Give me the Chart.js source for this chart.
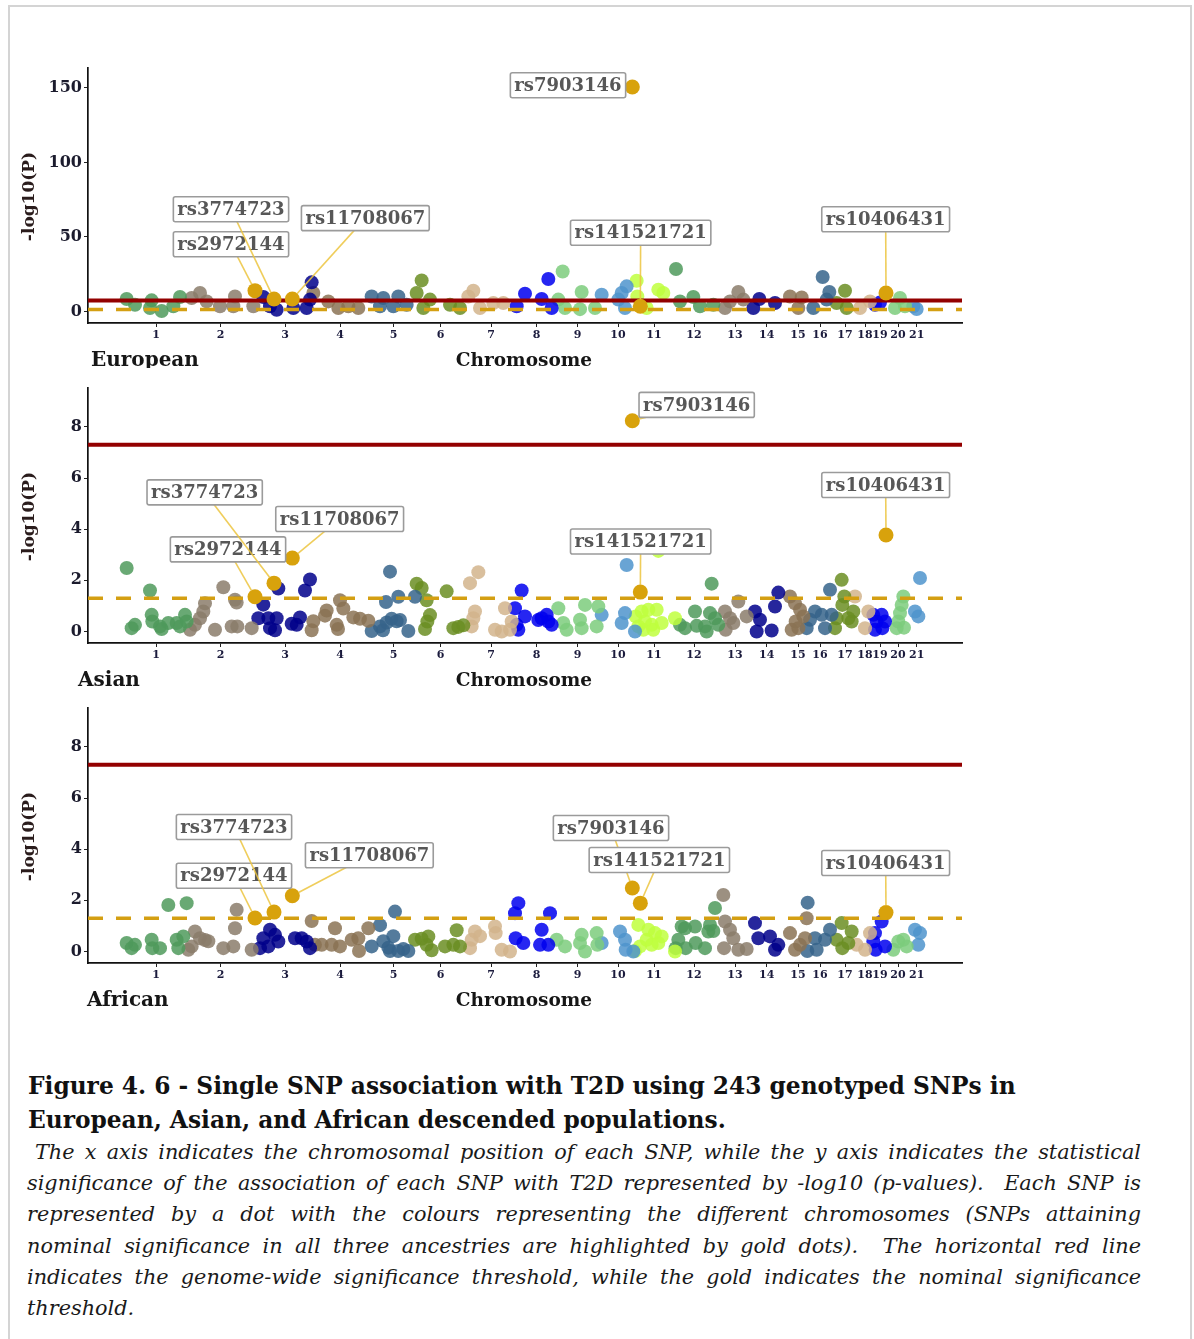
<!DOCTYPE html>
<html>
<head>
<meta charset="utf-8">
<script src="https://cdn.jsdelivr.net/npm/chart.js@4.4.0/dist/chart.umd.min.js"></script>
<style>
html, body { margin: 0; padding: 0; background: #fff; }
body { width: 1194px; height: 1339px; position: relative; overflow: hidden; }
#frame { position: absolute; left: 8px; top: 5px; width: 1180px; height: 1360px; border: 2px solid #d4d4d4; }
canvas.panel { position: absolute; left: 0; }
#fig_title { position: absolute; left: 28px; top: 1069px; font: bold 23.3px "DejaVu Serif", serif; line-height: 34px; color: #111; white-space: nowrap; }
#fig_text { position: absolute; left: 27px; top: 1137px; width: 1114px; font: italic 20.8px "DejaVu Serif", serif; line-height: 31.2px; color: #1a1a1a; }
#fig_text div { text-align: justify; text-align-last: justify; white-space: nowrap; }
#fig_text div.last { text-align-last: left; }
</style>
</head>
<body>
<div id="frame"></div>
<canvas id="g_european" class="panel" width="1194" height="320" style="top:48px"></canvas>
<canvas id="g_asian" class="panel" width="1194" height="320" style="top:368px"></canvas>
<canvas id="g_african" class="panel" width="1194" height="320" style="top:688px"></canvas>

<div id="fig_title">Figure 4. 6 - Single SNP association with T2D using 243 genotyped SNPs in<br>European, Asian, and African descended populations.</div>
<div id="fig_text">
  <div style="padding-left:8px">The x axis indicates the chromosomal position of each SNP, while the y axis indicates the statistical</div>
  <div>significance of the association of each SNP with T2D represented by -log10 (p-values).&nbsp; Each SNP is</div>
  <div>represented by a dot with the colours representing the different chromosomes (SNPs attaining</div>
  <div>nominal significance in all three ancestries are highlighted by gold dots).&nbsp; The horizontal red line</div>
  <div>indicates the genome-wide significance threshold, while the gold indicates the nominal significance</div>
  <div class="last">threshold.</div>
</div>

<script>
// chromosome midpoints on the cumulative position axis (Mb)
const chromCenters = [204, 397.5, 591, 756, 916.5, 1058, 1209, 1345.5, 1469, 1590, 1698, 1818, 1941, 2036, 2130, 2196, 2271, 2331, 2376, 2430, 2486];
const chromLabels = ['1','2','3','4','5','6','7','8','9','10','11','12','13','14','15','16','17','18','19','20','21'];
const genomeLength = 2622;

const genomeWideLine = 7.3;   // -log10(5e-8)
const nominalLine = 1.3;      // -log10(0.05)

// SNPs nominally significant in all three ancestries
const goldIds = ['rs2972144', 'rs3774723', 'rs11708067', 'rs7903146', 'rs141521721', 'rs10406431'];
const goldPos = [501, 558, 613, 1633, 1657, 2394];
const euroGold = [13.9, 8.3, 8.3, 150.6, 3.4, 12.3];
const asianGold = [1.36, 1.89, 2.87, 8.24, 1.54, 3.77];
const africanGold = [1.31, 1.54, 2.18, 2.48, 1.89, 1.52];

// [chromosome, position, -log10(P)]
const euroSnps = [
  [1,116,8.3],[1,141,4.5],[1,186,2.3],[1,191,7.4],[1,221,0.3],[1,256,3.4],[1,276,9.7],
  [2,311,9.0],[2,336,12.3],[2,356,6.7],[2,396,3.4],[2,436,3.4],[2,441,10.0],[2,496,3.4],
  [3,526,9.7],[3,546,3.4],[3,566,1.1],[3,616,2.3],[3,656,2.3],[3,666,7.9],[3,671,19.5],
  [4,676,12.3],[4,721,6.7],[4,751,2.3],[4,781,3.4],[4,811,2.3],
  [5,851,10.0],[5,876,3.4],[5,886,9.0],[5,916,3.4],[5,931,10.0],[5,956,4.5],
  [6,986,12.3],[6,1001,20.8],[6,1006,2.3],[6,1026,7.9],[6,1086,4.5],[6,1116,2.3],
  [7,1141,10.0],[7,1156,13.9],[7,1176,2.3],[7,1216,5.6],[7,1246,5.6],
  [8,1286,3.4],[8,1311,11.9],[8,1361,8.3],[8,1381,21.7],[8,1391,2.3],
  [9,1411,7.9],[9,1424,26.8],[9,1431,2.3],[9,1476,1.5],[9,1481,13.0],[9,1521,2.3],
  [10,1541,11.2],[10,1591,7.9],[10,1601,12.3],[10,1611,2.3],[10,1616,16.8],
  [11,1646,20.6],[11,1648,10.0],[11,1676,2.3],[11,1711,14.6],[11,1726,12.3],
  [12,1764,28.5],[12,1776,6.7],[12,1816,9.7],[12,1836,3.4],[12,1876,4.5],
  [13,1911,2.3],[13,1926,6.7],[13,1951,13.0],[13,1966,7.9],
  [14,1996,2.3],[14,2014,8.3],[14,2061,5.6],
  [15,2106,10.0],[15,2131,2.3],[15,2141,9.4],
  [16,2176,2.3],[16,2204,23.1],[16,2216,7.9],[16,2224,13.0],
  [17,2246,5.6],[17,2271,13.9],[17,2276,2.3],
  [18,2316,2.3],[18,2346,6.7],
  [19,2361,4.5],[19,2376,6.0],
  [20,2421,2.3],[20,2436,9.0],[20,2451,3.4],
  [21,2476,3.4],[21,2486,1.6]
];

const asianSnps = [
  [1,116,2.48],[1,131,0.13],[1,141,0.26],[1,186,1.6],[1,191,0.65],[1,193,0.39],[1,216,0.2],[1,221,0.1],[1,241,0.33],[1,266,0.33],[1,276,0.2],[1,291,0.65],[1,296,0.39],
  [2,306,0.07],[2,321,0.26],[2,336,0.52],[2,346,0.78],[2,351,1.1],[2,381,0.07],[2,406,1.73],[2,431,0.2],[2,441,1.24],[2,446,1.13],[2,448,0.2],[2,491,0.13],
  [3,511,0.52],[3,526,1.05],[3,541,0.52],[3,546,0.13],[3,561,0.05],[3,566,0.52],[3,571,1.68],[3,611,0.3],[3,626,0.26],[3,636,0.55],[3,651,1.6],[3,666,2.03],
  [4,671,0.05],[4,676,0.4],[4,711,0.62],[4,716,0.82],[4,746,0.26],[4,750,0.1],[4,756,1.22],[4,766,0.9],[4,796,0.55],[4,816,0.5],[4,841,0.42],
  [5,851,0.02],[5,876,0.2],[5,885,0.05],[5,894,1.15],[5,896,0.35],[5,906,2.34],[5,911,0.5],[5,926,0.4],[5,931,1.36],[5,936,0.45],[5,961,0.02],[5,981,1.36],
  [6,986,1.87],[6,1001,1.7],[6,1011,0.1],[6,1016,1.22],[6,1018,0.39],[6,1026,0.64],[6,1076,1.57],[6,1096,0.13],[6,1111,0.18],[6,1126,0.24],
  [7,1146,1.89],[7,1151,0.2],[7,1156,0.52],[7,1161,0.78],[7,1171,2.32],[7,1221,0.07],[7,1241,0.0],[7,1251,0.91],[7,1266,0.07],[7,1271,0.39],
  [8,1281,0.91],[8,1286,0.26],[8,1291,0.07],[8,1301,1.6],[8,1311,0.59],[8,1351,0.45],[8,1361,0.52],[8,1376,0.65],[8,1381,0.39],[8,1391,0.26],
  [9,1411,0.91],[9,1426,0.33],[9,1436,0.07],[9,1476,0.46],[9,1481,0.13],[9,1491,1.04],[9,1526,0.2],[9,1531,0.98],
  [10,1541,0.65],[10,1601,0.33],[10,1611,0.72],[10,1616,2.6],[10,1641,0.0],
  [11,1643,0.59],[11,1651,0.2],[11,1661,0.78],[11,1666,0.07],[11,1671,0.39],[11,1681,0.85],[11,1691,0.26],[11,1696,0.07],[11,1706,0.85],[11,1711,3.15],[11,1721,0.33],[11,1761,0.52],
  [12,1776,0.26],[12,1791,0.13],[12,1821,0.78],[12,1826,0.22],[12,1851,0.2],[12,1856,0.0],[12,1866,0.72],[12,1871,1.87],[12,1881,0.52],[12,1891,0.26],
  [13,1911,0.78],[13,1913,0.07],[13,1926,0.52],[13,1936,0.33],[13,1951,1.17],[13,1976,0.59],
  [14,2001,0.78],[14,2006,0.0],[14,2016,0.46],[14,2051,0.04],[14,2061,0.98],[14,2071,1.52],
  [15,2106,1.37],[15,2111,0.07],[15,2121,1.1],[15,2123,0.39],[15,2131,0.13],[15,2136,0.85],[15,2146,0.59],
  [16,2156,0.13],[16,2166,0.46],[16,2181,0.78],[16,2201,0.65],[16,2211,0.13],[16,2226,1.63],[16,2231,0.65],
  [17,2241,0.13],[17,2246,0.52],[17,2261,2.02],[17,2263,1.04],[17,2269,1.37],[17,2281,0.52],[17,2291,0.39],[17,2296,0.78],
  [18,2301,1.37],[18,2331,0.13],[18,2341,0.78],
  [19,2356,0.65],[19,2361,0.07],[19,2366,0.39],[19,2381,0.65],[19,2383,0.13],[19,2391,0.39],
  [20,2426,0.13],[20,2431,0.39],[20,2436,0.72],[20,2441,1.04],[20,2446,1.37],[20,2448,0.15],
  [21,2481,0.78],[21,2491,0.59],[21,2496,2.09]
];

const africanSnps = [
  [1,116,0.33],[1,131,0.13],[1,141,0.26],[1,191,0.46],[1,193,0.13],[1,216,0.13],[1,241,1.82],[1,266,0.46],[1,271,0.13],[1,286,0.59],[1,296,1.89],
  [2,301,0.07],[2,311,0.2],[2,321,0.78],[2,336,0.52],[2,351,0.45],[2,361,0.4],[2,406,0.13],[2,436,0.2],[2,441,0.91],[2,446,1.63],[2,491,0.07],
  [3,516,0.13],[3,526,0.52],[3,541,0.2],[3,546,0.85],[3,561,0.65],[3,571,0.39],[3,621,0.52],[3,641,0.52],[3,656,0.39],[3,666,0.13],
  [4,671,1.19],[4,681,0.26],[4,701,0.26],[4,731,0.26],[4,741,0.91],[4,756,0.2],[4,791,0.46],[4,811,0.52],[4,813,0.02],[4,841,0.91],
  [5,851,0.2],[5,876,1.03],[5,886,0.4],[5,901,0.15],[5,906,0.02],[5,916,0.6],[5,921,1.56],[5,931,0.02],[5,946,0.1],[5,961,0.02],
  [6,981,0.46],[6,1001,0.5],[6,1016,0.26],[6,1021,0.59],[6,1031,0.05],[6,1071,0.2],[6,1096,0.26],[6,1106,0.83],[6,1116,0.2],
  [7,1146,0.13],[7,1151,0.46],[7,1161,0.78],[7,1176,0.6],[7,1221,0.98],[7,1223,0.72],[7,1241,0.07],[7,1266,0.0],
  [8,1281,1.5],[8,1283,0.52],[8,1291,1.89],[8,1306,0.33],[8,1356,0.26],[8,1361,0.85],[8,1381,0.26],[8,1386,1.5],
  [9,1406,0.46],[9,1431,0.2],[9,1476,0.33],[9,1481,0.65],[9,1491,0.0],[9,1526,0.72],[9,1528,0.26],
  [10,1541,0.33],[10,1596,0.78],[10,1611,0.46],[10,1613,0.07],[10,1636,0.0],
  [11,1641,0.02],[11,1651,1.04],[11,1656,0.2],[11,1676,0.46],[11,1681,0.85],[11,1691,0.26],[11,1701,0.72],[11,1711,0.33],[11,1721,0.59],[11,1761,0.0],
  [12,1763,0.13],[12,1771,0.46],[12,1781,0.98],[12,1791,0.91],[12,1793,0.13],[12,1821,0.98],[12,1823,0.33],[12,1851,0.13],[12,1861,0.78],[12,1866,1.04],[12,1876,0.8],[12,1881,1.7],
  [13,1906,2.21],[13,1908,0.13],[13,1911,1.17],[13,1926,0.85],[13,1936,0.52],[13,1951,0.07],[13,1976,0.1],
  [14,2001,1.11],[14,2011,0.52],[14,2046,0.59],[14,2061,0.07],[14,2071,0.26],
  [15,2106,0.72],[15,2121,0.07],[15,2136,0.26],[15,2151,0.52],[15,2156,1.3],
  [16,2158,0.02],[16,2159,1.91],[16,2181,0.52],[16,2186,0.07],[16,2211,0.46],[16,2226,0.85],
  [17,2246,0.46],[17,2261,1.11],[17,2263,0.13],[17,2281,0.33],[17,2291,0.78],
  [18,2306,0.26],[18,2331,0.07],[18,2346,0.72],
  [19,2356,0.39],[19,2361,0.72],[19,2363,0.07],[19,2381,1.17],[19,2391,0.2],
  [20,2416,0.07],[20,2431,0.39],[20,2446,0.46],[20,2456,0.2],
  [21,2481,0.85],[21,2491,0.26],[21,2496,0.72]
];

// label box centres (position, -log10(P)), same order as goldIds
const euroBoxes = [[429,45.1],[429,68.6],[832,62.6],[1440,151.8],[1658,52.8],[2393,61.9]];
const asianBoxes = [[420,3.21],[350,5.44],[755,4.4],[1826,8.86],[1658,3.52],[2393,5.73]];
const africanBoxes = [[438,2.96],[438,4.87],[844,3.76],[1569,4.83],[1714,3.58],[2393,3.46]];

// ggplot-style chromosome palette, recycled after chromosome 11
const chrColors = ['#4f9a5c','#8b7d6b','#00008b','#8b7355','#36648b','#6b8e23','#d2b48c','#0000ee','#7ccd7c','#4f94cd','#c0ff3e'];
const gold = '#d8a20c';
const serif = '"DejaVu Serif", serif';

function alpha(hex, a){
    let r = parseInt(hex.substr(1,2),16), g = parseInt(hex.substr(3,2),16), b = parseInt(hex.substr(5,2),16);
    return 'rgba(' + r + ',' + g + ',' + b + ',' + a + ')';
}

function decor(p){
    return {
        id: 'decor_' + p.id,
        beforeDatasetDraw(chart, args){
            if(args.index !== 0) return;
            // threshold lines go over the chromosome dots, under the gold ones
            let ctx = chart.ctx, a = chart.chartArea, y = chart.scales.y;
            ctx.save();
            ctx.lineCap = 'butt';
            let yn = y.getPixelForValue(nominalLine);
            ctx.strokeStyle = '#d49f12';
            ctx.lineWidth = 3.5;
            ctx.setLineDash([15, 13]);
            ctx.beginPath(); ctx.moveTo(a.left, yn); ctx.lineTo(a.right, yn); ctx.stroke();
            ctx.setLineDash([]);
            let yg = y.getPixelForValue(genomeWideLine);
            ctx.strokeStyle = '#930000';
            ctx.lineWidth = 4;
            ctx.beginPath(); ctx.moveTo(a.left, yg); ctx.lineTo(a.right, yg); ctx.stroke();
            ctx.restore();
        },
        afterDatasetsDraw(chart){
            let ctx = chart.ctx, xs = chart.scales.x, ys = chart.scales.y;
            ctx.save();
            ctx.font = 'bold 18px ' + serif;
            for(let i = 0; i < goldIds.length; i++){
                let cx = xs.getPixelForValue(p.boxes[i][0]), cy = ys.getPixelForValue(p.boxes[i][1]);
                let px = xs.getPixelForValue(goldPos[i]), py = ys.getPixelForValue(p.gold[i]);
                let w = ctx.measureText(goldIds[i]).width + 8, h = 25;
                // segment from the box to the dot, stopping at the dot's edge
                let dx = px - cx, dy = py - cy, d = Math.hypot(dx, dy);
                let tEdge = Math.min(Math.abs(w / 2 / (dx || 1e-9)), Math.abs(h / 2 / (dy || 1e-9)));
                if(d * (1 - tEdge) > 12){
                    let r = 7 / d;
                    ctx.strokeStyle = 'rgba(236,196,62,0.85)';
                    ctx.lineWidth = 1.6;
                    ctx.beginPath(); ctx.moveTo(cx, cy); ctx.lineTo(px - dx * r, py - dy * r); ctx.stroke();
                }
                ctx.fillStyle = '#fff';
                ctx.strokeStyle = '#9b9b9b';
                ctx.lineWidth = 1.6;
                ctx.beginPath();
                ctx.roundRect(cx - w / 2, cy - h / 2, w, h, 2);
                ctx.fill(); ctx.stroke();
                ctx.fillStyle = '#575757';
                ctx.textAlign = 'center';
                ctx.textBaseline = 'middle';
                ctx.fillText(goldIds[i], cx, cy + 1);
            }
            ctx.restore();
        },
        afterDraw(chart){
            let ctx = chart.ctx, a = chart.chartArea;
            ctx.save();
            ctx.fillStyle = '#161616';
            ctx.textBaseline = 'middle';
            ctx.font = 'bold 20px ' + serif;
            ctx.textAlign = 'left';
            ctx.fillText(p.name, p.nameX, a.bottom + 38);
            ctx.font = 'bold 18.5px ' + serif;
            ctx.textAlign = 'center';
            ctx.fillText('Chromosome', 524, a.bottom + 38);
            ctx.translate(30, (a.top + a.bottom) / 2 + 1);
            ctx.rotate(-Math.PI / 2);
            ctx.font = 'bold 17px ' + serif;
            ctx.fillStyle = '#2a1c1c';
            ctx.fillText('-log10(P)', 0, 0);
            ctx.restore();
        }
    };
}

function manhattan(p){
    let datasets = [{
        label: 'gold',
        order: 0,
        data: goldPos.map((x, i) => ({x: x, y: p.gold[i]})),
        backgroundColor: gold,
        borderWidth: 0,
        pointRadius: 7.5
    }];
    for(let c = 1; c <= 21; c++){
        datasets.push({
            label: 'chr' + c,
            order: 1,
            data: p.snps.filter(s => s[0] === c).map(s => ({x: s[1], y: s[2]})),
            backgroundColor: alpha(chrColors[(c - 1) % 11], 0.85),
            borderWidth: 0,
            pointRadius: 7
        });
    }
    let axisGrid = {display: true, drawOnChartArea: false, drawTicks: true, tickLength: 4, color: '#222', lineWidth: 1};
    let axisBorder = {display: true, color: '#111', width: 1.7};

    new Chart(document.getElementById(p.id).getContext('2d'), {
        type: 'scatter',
        data: {datasets: datasets},
        options: {
            responsive: false,
            animation: false,
            devicePixelRatio: 1,
            events: [],
            layout: {padding: {top: 20, right: 232, left: 0, bottom: 0}},
            plugins: {legend: {display: false}, tooltip: {enabled: false}},
            scales: {
                x: {
                    type: 'linear', min: 0, max: genomeLength,
                    afterFit: s => { s.height = 45; },
                    afterBuildTicks: s => { s.ticks = chromCenters.map(v => ({value: v})); },
                    grid: axisGrid, border: axisBorder,
                    ticks: {
                        autoSkip: false, maxRotation: 0, minRotation: 0, padding: 2,
                        color: '#1b1b3d',
                        font: {family: 'DejaVu Serif', weight: 'bold', size: 11},
                        callback: (v, i) => chromLabels[i]
                    }
                },
                y: {
                    type: 'linear', min: p.yMin, max: p.yMax,
                    afterFit: s => { s.width = 88; },
                    afterBuildTicks: s => { s.ticks = p.yTicks.map(v => ({value: v})); },
                    grid: axisGrid, border: axisBorder,
                    ticks: {
                        padding: 2,
                        color: '#1b1b2d',
                        font: {family: 'DejaVu Serif', weight: 'bold', size: 16},
                        callback: v => v
                    }
                }
            }
        },
        plugins: [decor(p)]
    });
}

manhattan({id: 'g_european', name: 'European', nameX: 91, snps: euroSnps, gold: euroGold, boxes: euroBoxes, yMin: -7.8, yMax: 163.4, yTicks: [0, 50, 100, 150]});
manhattan({id: 'g_asian', name: 'Asian', nameX: 78, snps: asianSnps, gold: asianGold, boxes: asianBoxes, yMin: -0.45, yMax: 9.52, yTicks: [0, 2, 4, 6, 8]});
manhattan({id: 'g_african', name: 'African', nameX: 87, snps: africanSnps, gold: africanGold, boxes: africanBoxes, yMin: -0.45, yMax: 9.52, yTicks: [0, 2, 4, 6, 8]});
</script>
</body>
</html>
